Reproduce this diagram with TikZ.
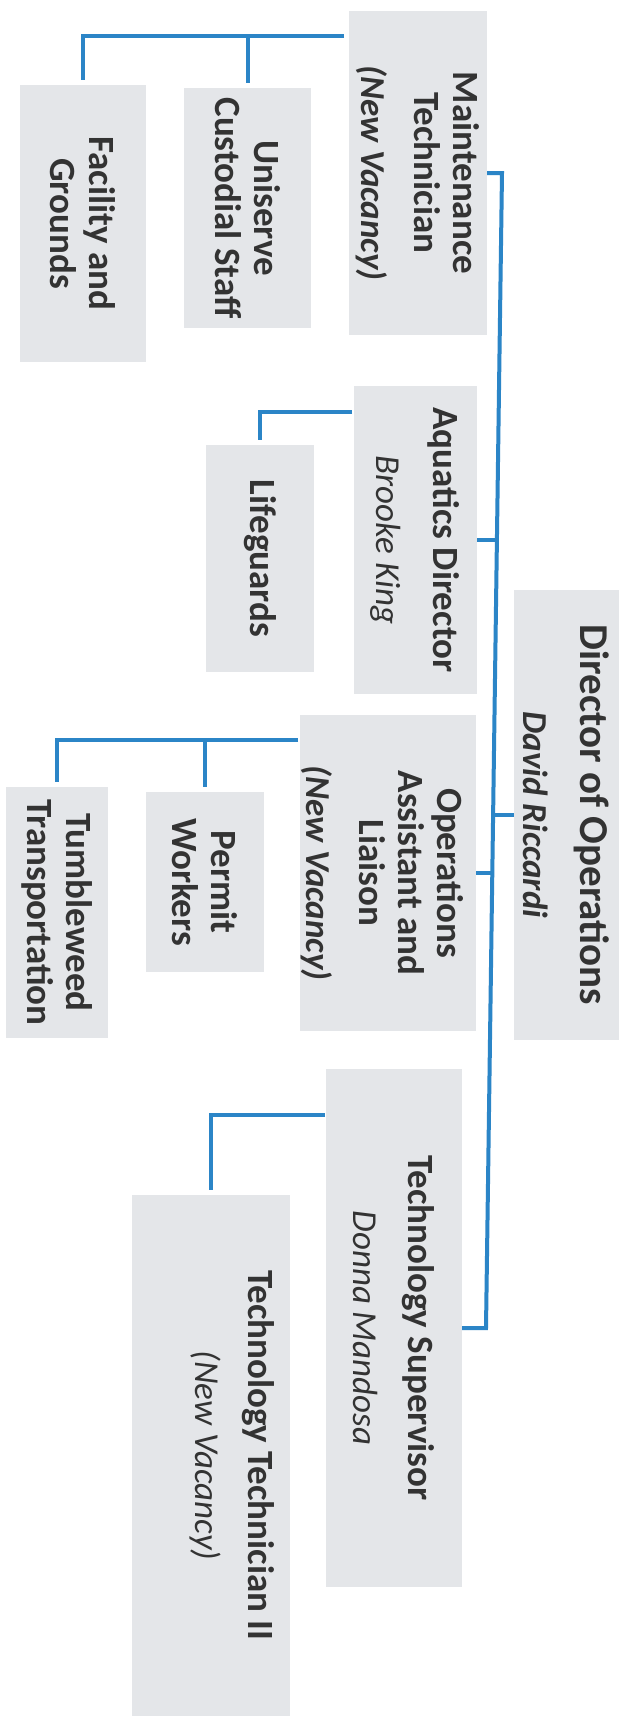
\documentclass[tikz,border=0pt]{standalone}
\usepackage{fontspec}
\setmainfont{Carlito}
\usetikzlibrary{calc}
\definecolor{boxgray}{HTML}{E4E6E9}
\definecolor{lineblue}{HTML}{2B85C7}
\definecolor{txtgray}{HTML}{333333}
\begin{document}
\begin{tikzpicture}[x=1pt,y=-1pt,
  orgbox/.style={fill=boxgray,draw=none,inner sep=0pt,outer sep=0pt},
  orgtxt/.style={rotate=-90,align=center,text=txtgray,inner sep=0pt,font=\fontsize{37}{39}\selectfont\bfseries},
  subtxt/.style={},
  conn/.style={draw=lineblue,line width=4pt,line join=miter}]
\useasboundingbox (0,0) rectangle (626,1716);
\fill[white] (0,0) rectangle (626,1716);

% boxes
\node[orgbox,minimum width=138pt,minimum height=324pt] (maint) at (418,173) {};
\node[orgbox,minimum width=127pt,minimum height=240pt] (unis) at (247.5,208) {};
\node[orgbox,minimum width=126pt,minimum height=277pt] (facil) at (83,223.5) {};
\node[orgbox,minimum width=123pt,minimum height=308pt] (aqua) at (415.5,540) {};
\node[orgbox,minimum width=108pt,minimum height=227pt] (life) at (260,558.5) {};
\node[orgbox,minimum width=105pt,minimum height=450pt] (dir) at (566.5,815) {};
\node[orgbox,minimum width=176pt,minimum height=316pt] (ops) at (388,873) {};
\node[orgbox,minimum width=118pt,minimum height=180pt] (permit) at (205,882) {};
\node[orgbox,minimum width=102pt,minimum height=251pt] (tumble) at (57,912.5) {};
\node[orgbox,minimum width=136pt,minimum height=518pt] (techsup) at (394,1328) {};
\node[orgbox,minimum width=158pt,minimum height=521pt] (techtech) at (211,1455.5) {};

% texts
\node[orgtxt] (maintT) at (maint.center) {Maintenance\\Technician\\[14pt]{\fontsize{35}{37}\selectfont\itshape (New Vacancy)}};
\node[orgtxt] (unisT) at (unis.center) {Uniserve\\Custodial Staff};
\node[orgtxt] (facilT) at (facil.center) {Facility and\\Grounds};
\node[orgtxt] (aquaT) at (aqua.center) {Aquatics Director\\[18pt]{\fontsize{35}{37}\selectfont\mdseries\itshape Brooke King}};
\node[orgtxt] (lifeT) at (life.center) {Lifeguards};
\node[orgtxt,font=\fontsize{41}{43}\selectfont\bfseries] (dirT) at (dir.center) {Director of Operations\\[14pt]{\fontsize{35}{37}\selectfont\itshape David Riccardi}};
\node[orgtxt] (opsT) at ($(ops.center)+(-6,0)$) {Operations\\Assistant and\\Liaison\\[14pt]{\fontsize{35}{37}\selectfont\itshape (New Vacancy)}};
\node[orgtxt] (permitT) at (permit.center) {Permit\\Workers};
\node[orgtxt] (tumbleT) at (tumble.center) {Tumbleweed\\Transportation};
\node[orgtxt] (techsupT) at (techsup.center) {Technology Supervisor\\[16pt]{\fontsize{35}{37}\selectfont\mdseries\itshape Donna Mandosa}};
\node[orgtxt] (techtechT) at ($(techtech.center)+(21,0)$) {Technology Technician II\\[14pt]{\fontsize{35}{37}\selectfont\mdseries\itshape (New Vacancy)}};

% main bus
\coordinate (b1) at (502,173);
\coordinate (b2) at (497,540);
\coordinate (b3) at (493,815);
\coordinate (b4) at (492,873);
\coordinate (b5) at (486,1328);
\draw[conn] (maint.east) -- (b1) -- (b5) -- (techsup.east);
\draw[conn] (aqua.east) -- (b2);
\draw[conn] (dir.west) -- (b3);
\draw[conn] (ops.east) -- (b4);

% sub connectors
\coordinate (mj) at ($(maint.north west)+(-5,25)$);
\draw[conn,shorten >=5pt] (mj) -- (mj -| facil.north) -- (facil.north);
\draw[conn,shorten >=5pt] (mj -| unis.north) -- (unis.north);

\coordinate (aj) at ($(aqua.north west)+(-2,26)$);
\draw[conn,shorten >=5pt] (aj) -- (aj -| life.north) -- (life.north);

\coordinate (oj) at ($(ops.north west)+(-2,25)$);
\draw[conn,shorten >=5pt] (oj) -- (oj -| tumble.north) -- (tumble.north);
\draw[conn,shorten >=5pt] (oj -| permit.north) -- (permit.north);

\coordinate (tj) at ($(techsup.north west)+(-1,46)$);
\draw[conn,shorten >=5pt] (tj) -- (tj -| techtech.north) -- (techtech.north);
\end{tikzpicture}
\end{document}
